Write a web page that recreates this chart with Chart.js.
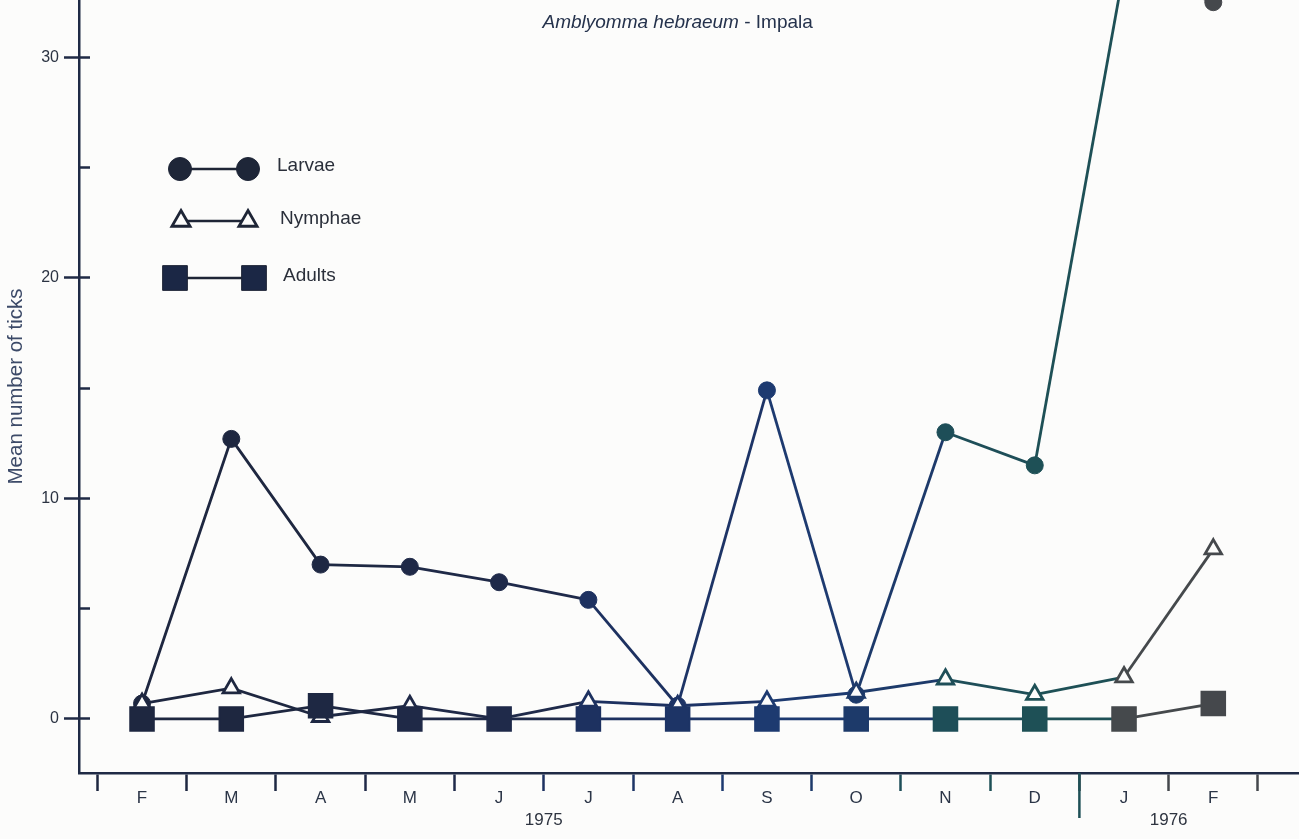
<!DOCTYPE html>
<html>
<head>
<meta charset="utf-8">
<script src="https://cdn.jsdelivr.net/npm/chart.js@4.4.1/dist/chart.umd.min.js"></script>
<style>
  html, body { margin: 0; padding: 0; background: #fcfcfb; }
  #wrap { width: 1299px; height: 839px; position: relative; }
</style>
</head>
<body>
<div id="wrap"><canvas id="c" width="1299" height="839"></canvas></div>
<script>
// Monthly samples, Feb 1975 – Feb 1976
const months = ['F', 'M', 'A', 'M', 'J', 'J', 'A', 'S', 'O', 'N', 'D', 'J', 'F'];
const yearLabels = ['1975', '1976'];
const yearPositions = [4.5, 11.5];
const yearBreak = 10.5;
const yTickValues = [0, 10, 20, 30];
const yMinorValues = [0, 5, 10, 15, 20, 25, 30];

// Mean number of ticks per impala
const larvae  = [0.7, 12.7, 7.0, 6.9, 6.2, 5.4, 0.6, 14.9, 1.1, 13.0, 11.5, 34.0, 32.5];
const nymphae = [0.7, 1.4, 0.1, 0.6, 0.0, 0.8, 0.6, 0.8, 1.2, 1.8, 1.1, 1.9, 7.7];
const adults  = [0.0, 0.0, 0.6, 0.0, 0.0, 0.0, 0.0, 0.0, 0.0, 0.0, 0.0, 0.0, 0.7];

// Ink tone of each month's marks
const INK = '#1f2a45';
const tone = ['#1e2740', '#1e2740', '#1e2843', '#1f2947', '#1f2a4a', '#1d3160',
              '#1d3466', '#1d3a70', '#1d3a6a', '#1e4e58', '#1e5056', '#45494c', '#45484c'];
const FONT = '"Liberation Sans", Arial, sans-serif';

const toPoints = arr => arr.map((v, i) => ({ x: i, y: v }));
const segTone = ctx => tone[ctx.p0DataIndex];
const noPadding = s => { s.paddingTop = 0; s.paddingBottom = 0; s.paddingLeft = 0; s.paddingRight = 0; };

const decorPlugin = {
  id: 'decor',
  afterDraw(chart) {
    const { ctx, chartArea } = chart;
    const xs = chart.scales.x;
    ctx.save();

    // Title inside the plot
    const part1 = 'Amblyomma hebraeum';
    const part2 = ' - Impala';
    ctx.font = 'italic 19px ' + FONT;
    const w1 = ctx.measureText(part1).width;
    ctx.font = '19px ' + FONT;
    const w2 = ctx.measureText(part2).width;
    const cx = xs.getPixelForValue(6);
    const tx = cx - (w1 + w2) / 2;
    ctx.fillStyle = '#25324c';
    ctx.textBaseline = 'middle';
    ctx.textAlign = 'left';
    ctx.font = 'italic 19px ' + FONT;
    ctx.fillText(part1, tx, chartArea.top + 23);
    ctx.font = '19px ' + FONT;
    ctx.fillText(part2, tx + w1, chartArea.top + 23);

    // Year labels and the year boundary tick
    ctx.font = '17px ' + FONT;
    ctx.fillStyle = '#2e3440';
    ctx.textAlign = 'center';
    yearLabels.forEach((t, i) => {
      ctx.fillText(t, xs.getPixelForValue(yearPositions[i]), chartArea.bottom + 47);
    });
    ctx.strokeStyle = tone[10];
    ctx.lineWidth = 2.5;
    const bx = xs.getPixelForValue(yearBreak);
    ctx.beginPath();
    ctx.moveTo(bx, chartArea.bottom);
    ctx.lineTo(bx, chartArea.bottom + 45);
    ctx.stroke();

    // Legend
    const drawMark = (style, r, x, y, fill, stroke, bw) => {
      ctx.fillStyle = fill;
      ctx.strokeStyle = stroke;
      ctx.lineWidth = bw;
      Chart.helpers.drawPoint(ctx, { pointStyle: style, radius: r, borderWidth: bw, rotation: 0 }, x, y);
    };
    const rows = [
      { text: 'Larvae',  style: 'circle',   r: 11.5, x1: 180, x2: 248, y: 169, tx: 277, ty: 166, fill: '#1e2638', bw: 1 },
      { text: 'Nymphae', style: 'triangle', r: 10.5, x1: 181, x2: 248, y: 221, tx: 280, ty: 219, fill: '#fcfcfb', bw: 2.8 },
      { text: 'Adults',  style: 'rect',     r: 17.5, x1: 175, x2: 254, y: 278, tx: 283, ty: 276, fill: '#1b2745', bw: 1 }
    ];
    rows.forEach(row => {
      ctx.strokeStyle = '#1e2536';
      ctx.lineWidth = 2.5;
      ctx.beginPath();
      ctx.moveTo(row.x1, row.y);
      ctx.lineTo(row.x2, row.y);
      ctx.stroke();
      drawMark(row.style, row.r, row.x1, row.y, row.fill, '#1e2536', row.bw);
      drawMark(row.style, row.r, row.x2, row.y, row.fill, '#1e2536', row.bw);
      ctx.fillStyle = '#2a2f3a';
      ctx.font = '19px ' + FONT;
      ctx.textAlign = 'left';
      ctx.textBaseline = 'middle';
      ctx.fillText(row.text, row.tx, row.ty);
    });
    ctx.restore();
  }
};

new Chart(document.getElementById('c'), {
  type: 'line',
  data: {
    datasets: [
      {
        label: 'Larvae',
        data: toPoints(larvae),
        order: 3,
        borderWidth: 2.8,
        borderColor: INK,
        segment: { borderColor: segTone },
        pointStyle: 'circle',
        pointRadius: 8.5,
        pointBackgroundColor: tone,
        pointBorderColor: tone,
        pointBorderWidth: 1,
        tension: 0
      },
      {
        label: 'Nymphae',
        data: toPoints(nymphae),
        order: 2,
        borderWidth: 2.8,
        borderColor: INK,
        segment: { borderColor: segTone },
        pointStyle: 'triangle',
        pointRadius: 9.5,
        pointBackgroundColor: '#fcfcfb',
        pointBorderColor: tone,
        pointBorderWidth: 2.8,
        tension: 0
      },
      {
        label: 'Adults',
        data: toPoints(adults),
        order: 1,
        borderWidth: 2.8,
        borderColor: INK,
        segment: { borderColor: segTone },
        pointStyle: 'rect',
        pointRadius: 17,
        pointBackgroundColor: tone,
        pointBorderColor: tone,
        pointBorderWidth: 1.5,
        tension: 0
      }
    ]
  },
  options: {
    responsive: false,
    devicePixelRatio: 1,
    animation: false,
    layout: { padding: 0, autoPadding: false },
    plugins: { legend: { display: false }, tooltip: { enabled: false } },
    scales: {
      x: {
        type: 'linear',
        min: -0.706,
        max: 12.96,
        afterFit: s => { s.height = 66; noPadding(s); },
        afterBuildTicks: s => {
          const t = [];
          for (let v = -0.5; v <= 12.5; v += 0.5) t.push({ value: v });
          s.ticks = t;
        },
        ticks: {
          autoSkip: false,
          maxRotation: 0,
          padding: -3,
          color: '#2b3547',
          font: { family: FONT, size: 17 },
          callback: v => (Number.isInteger(v) ? months[v] : '')
        },
        grid: {
          drawOnChartArea: false,
          tickLength: 18,
          tickWidth: 2.5,
          tickColor: c => (c.tick && !Number.isInteger(c.tick.value)) ? tone[Math.min(12, Math.max(0, Math.round(c.tick.value)))] : 'rgba(0,0,0,0)'
        },
        border: { display: true, color: INK, width: 2.5 }
      },
      y: {
        type: 'linear',
        position: 'left',
        weight: 0,
        min: -2.45,
        max: 32.6,
        afterFit: s => { s.width = 0; noPadding(s); },
        afterBuildTicks: s => { s.ticks = yMinorValues.map(v => ({ value: v })); },
        ticks: { callback: () => '', padding: 0 },
        grid: { drawOnChartArea: false, tickLength: -11, tickWidth: 2.5, tickColor: INK },
        border: { display: true, color: INK, width: 2.5 }
      },
      y2: {
        type: 'linear',
        position: 'left',
        weight: 1,
        min: -2.45,
        max: 32.6,
        afterFit: s => { s.width = 79; noPadding(s); },
        afterBuildTicks: s => { s.ticks = yTickValues.map(v => ({ value: v })); },
        ticks: { padding: 5, color: '#2b3342', font: { family: FONT, size: 16 } },
        grid: { drawOnChartArea: false, tickLength: 15, tickWidth: 2.5, tickColor: INK },
        border: { display: false },
        title: {
          display: true,
          text: 'Mean number of ticks',
          color: '#3c4a68',
          font: { family: FONT, size: 20.5 },
          padding: { top: 4, bottom: 0 }
        }
      }
    }
  },
  plugins: [decorPlugin]
});
</script>
</body>
</html>
